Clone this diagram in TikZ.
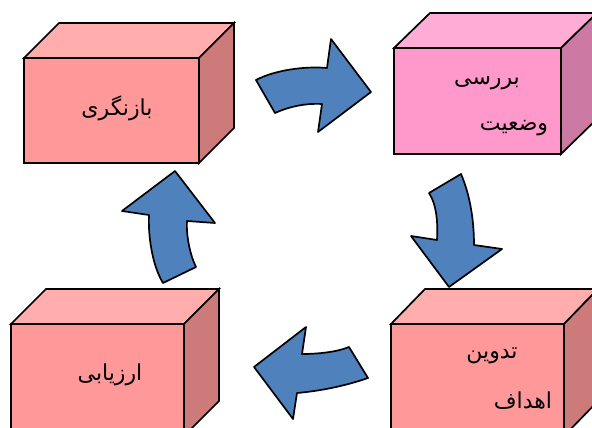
\documentclass[tikz,border=0pt]{standalone}
\usepackage{fontspec}
\newfontfamily\arabicfont[Script=Arabic]{DejaVu Sans}
\TeXXeTstate=1
\definecolor{redfront}{HTML}{FF9999}
\definecolor{redtop}{HTML}{FFADAD}
\definecolor{redside}{HTML}{CC7A7A}
\definecolor{pinkfront}{HTML}{FF99CC}
\definecolor{pinktop}{HTML}{FFADD6}
\definecolor{pinkside}{HTML}{CC7AA3}
\definecolor{arrowblue}{HTML}{4F81BD}
\tikzset{
  edge/.style={draw=black, line width=1.7pt, line join=miter},
  front/.style={edge, rectangle, outer sep=0pt, inner sep=0pt, anchor=north west},
  label/.style={font=\arabicfont\fontsize{22}{26}\selectfont, inner sep=0pt},
  bluearrow/.style={edge, fill=arrowblue, line join=round},
}
\newcommand{\cuboidfaces}[4]{%
  % #1 front node, #2 top colour, #3 side colour, #4 depth
  \path[edge, fill=#2] (#1.north west) -- ++(#4,-35) -- ($(#1.north east)+(#4,-35)$) -- (#1.north east) -- cycle;
  \path[edge, fill=#3] (#1.north east) -- ++(#4,-35) -- ($(#1.south east)+(#4,-35)$) -- (#1.south east) -- cycle;
}
\usetikzlibrary{calc}
\begin{document}
\begin{tikzpicture}[x=1pt, y=-1pt]
\useasboundingbox (0,0) rectangle (592,428);
\clip (0,0) rectangle (592,428);

% four boxes
\node[front, fill=redfront, minimum width=175, minimum height=105] (review) at (24,58) {};
\cuboidfaces{review}{redtop}{redside}{35}
\node[label] (reviewtxt) at (117,108) {\beginR بازنگری\endR};

\node[front, fill=pinkfront, minimum width=167, minimum height=106] (survey) at (394,48) {};
\cuboidfaces{survey}{pinktop}{pinkside}{36}
\node[label] (surveytxt1) at (487,83) {\beginR بررسی\endR};
\node[label] (surveytxt2) at (514,128) {\beginR وضعیت\endR};

\node[front, fill=redfront, minimum width=173, minimum height=112] (goals) at (391,324) {};
\cuboidfaces{goals}{redtop}{redside}{34}
\node[label] (goalstxt1) at (492,356) {\beginR تدوین\endR};
\node[label] (goalstxt2) at (523,401) {\beginR اهداف\endR};

\node[front, fill=redfront, minimum width=173, minimum height=112] (assess) at (11,324) {};
\cuboidfaces{assess}{redtop}{redside}{35}
\node[label] (assesstxt) at (110,375) {\beginR ارزیابی\endR};

% curved block arrows of the cycle
\path[bluearrow] (256,80) .. controls (275,70) and (305,66) .. (327,68)
  -- (331,39) -- (371,92) -- (318,132) -- (322,104)
  .. controls (305,103) and (288,107) .. (275,113) -- cycle;

\path[bluearrow] (461,174) .. controls (470,195) and (474,220) .. (474,245)
  -- (502,249) -- (449,287) -- (411,236) -- (437,240)
  .. controls (438,225) and (437,205) .. (429,193) -- cycle;

\path[bluearrow] (368,378) .. controls (345,386) and (320,391) .. (297,393)
  -- (293,419) -- (254,367) -- (306,327) -- (302,354)
  .. controls (318,354) and (337,352) .. (349,347) -- cycle;

\path[bluearrow] (163,283) .. controls (152,265) and (148,235) .. (149,215)
  -- (122,211) -- (175,171) -- (215,223) -- (187,221)
  .. controls (186,235) and (190,255) .. (196,267) -- cycle;
\end{tikzpicture}
\end{document}
